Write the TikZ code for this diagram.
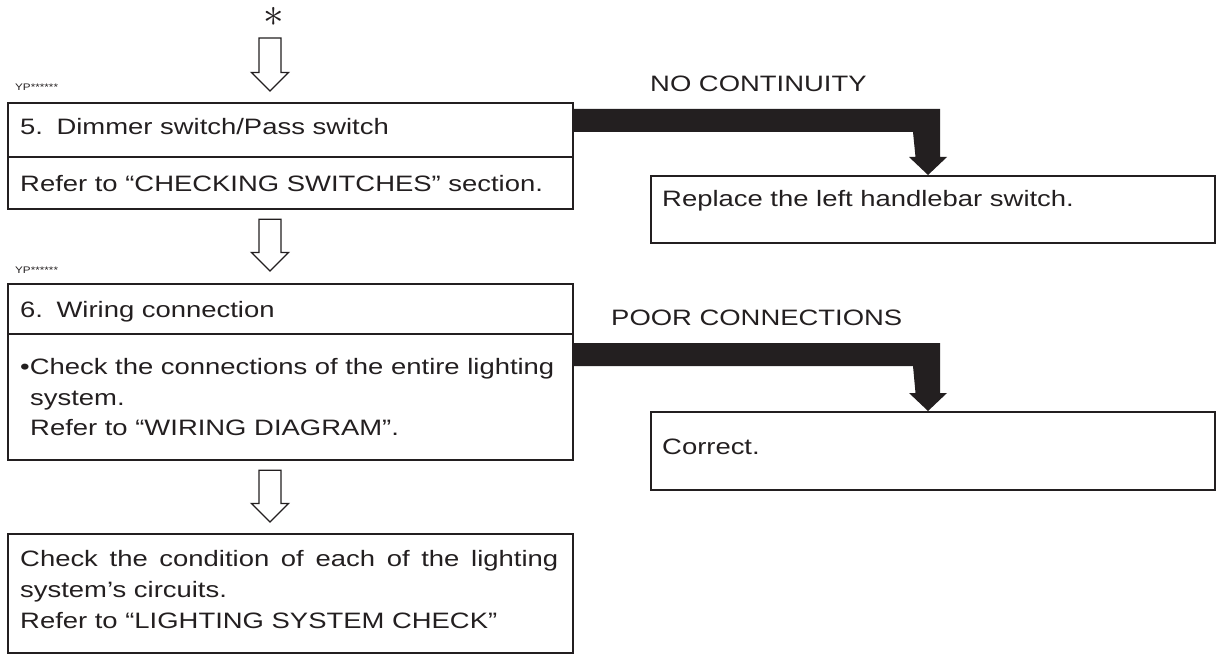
\documentclass[tikz,border=0pt]{standalone}
\usepackage{fontspec}
\setmainfont{Liberation Sans}[FakeStretch=1.23]
\usetikzlibrary{calc}
\definecolor{ink}{HTML}{231F20}
\newcommand\harrow[2]{\draw[hollow] let \p1=(#1), \p2=(#2) in
  (\x1-11pt,\y1) -- (\x1+11pt,\y1) -- (\x1+11pt,\y2+18.5pt) -- (\x1+18.5pt,\y2+18.5pt)
  -- (\x2,\y2) -- (\x1-18.5pt,\y2+18.5pt) -- (\x1-11pt,\y2+18.5pt) -- cycle;}
\newcommand\tharrow[2]{\fill[bar] let \p1=(#1), \p2=(#2) in
  (\x1,\y1) -- (\x2+12pt,\y1) -- (\x2+12pt,\y2+18pt) -- (\x2+19pt,\y2+18pt)
  -- (\x2,\y2) -- (\x2-19pt,\y2+18pt) -- (\x2-12.5pt,\y2+18pt) -- (\x2-15pt,\y1-23pt)
  -- (\x1,\y1-23pt) -- cycle;}
\begin{document}
\begin{tikzpicture}[x=1pt,y=-1pt,
  box/.style={draw=ink, line width=2.2pt, rectangle, inner sep=0pt, anchor=north west},
  divider/.style={draw=ink, line width=1.2pt},
  txt/.style={anchor=base west, inner sep=0pt, text=ink, font=\fontsize{22.3}{30.5}\selectfont},
  small/.style={anchor=base west, inner sep=0pt, text=ink, font=\fontsize{9.5}{10}\selectfont},
  hollow/.style={draw=ink, line width=1.3pt, fill=white, line join=miter},
  bar/.style={fill=ink}]
\useasboundingbox (0,0) rectangle (1217,655);

% boxes
\node[box, minimum width=565pt, minimum height=106pt] (b5) at (7,102) {};
\node[box, minimum width=564pt, minimum height=67pt] (rep) at (650,175) {};
\node[box, minimum width=565pt, minimum height=176pt] (b6) at (7,283) {};
\node[box, minimum width=564pt, minimum height=78pt] (cor) at (650,411) {};
\node[box, minimum width=565pt, minimum height=119pt] (b7) at (7,533) {};

% dividers
\draw[divider] ($(b5.north west)+(0,55)$) -- ($(b5.north east)+(0,55)$);
\draw[divider] ($(b6.north west)+(0,51)$) -- ($(b6.north east)+(0,51)$);

% labels above boxes
\node[small] (yp5) at ($(b5.north west)+(8,-11)$) {YP******};
\node[small] (yp6) at ($(b6.north west)+(8,-10)$) {YP******};
\node[inner sep=0pt, text=ink] (ast) at (274,17) {\scalebox{4.1}{$\ast$}};

% box texts
\node[txt] (t5a) at ($(b5.north west)+(13,33)$) {5.\hspace{13.5pt}Dimmer switch/Pass switch};
\node[txt] (t5b) at ($(b5.north west)+(13,89)$) {Refer to “CHECKING SWITCHES” section.};
\node[txt] (trep) at ($(rep.north west)+(12,32)$) {Replace the left handlebar switch.};
\node[txt] (t6a) at ($(b6.north west)+(13,34)$) {6.\hspace{13.5pt}Wiring connection};
\node[txt] (t6b) at ($(b6.north west)+(13,91)$) {•Check the connections of the entire lighting};
\node[txt] (t6c) at ($(b6.north west)+(23,122)$) {system.};
\node[txt] (t6d) at ($(b6.north west)+(23,152)$) {Refer to “WIRING DIAGRAM”.};
\node[txt] (tcor) at ($(cor.north west)+(12,43)$) {Correct.};
\node[txt] (t7a) at ($(b7.north west)+(13,33)$) {\makebox[538pt][s]{Check the condition of each of the lighting}};
\node[txt] (t7b) at ($(b7.north west)+(13,64)$) {system’s circuits.};
\node[txt] (t7c) at ($(b7.north west)+(13,95)$) {Refer to “LIGHTING SYSTEM CHECK”};

% branch labels
\node[txt] (lno) at (650,92) {NO CONTINUITY};
\node[txt] (lpoor) at (611,325) {POOR CONNECTIONS};

% hollow flow arrows
\coordinate (a1t) at ($(b5.north west)+(263,-64)$);
\coordinate (a1b) at ($(b5.north west)+(263,-11)$);
\coordinate (a2t) at ($(b5.south west)+(263,9)$);
\coordinate (a2b) at ($(b6.north west)+(263,-12)$);
\coordinate (a3t) at ($(b6.south west)+(263,9)$);
\coordinate (a3b) at ($(b7.north west)+(263,-11)$);
\harrow{a1t}{a1b}
\harrow{a2t}{a2b}
\harrow{a3t}{a3b}

% thick branch arrows
\coordinate (s1) at ($(b5.north east)+(0,7)$);
\coordinate (e1) at ($(rep.north west)+(278,0)$);
\coordinate (s2) at ($(b6.north east)+(0,60)$);
\coordinate (e2) at ($(cor.north west)+(278,0)$);
\tharrow{s1}{e1}
\tharrow{s2}{e2}
\end{tikzpicture}
\end{document}
